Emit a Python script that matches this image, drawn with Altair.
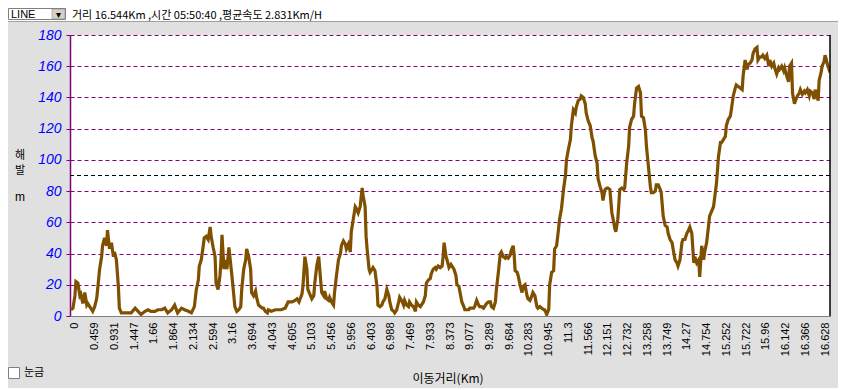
import altair as alt
import pandas as pd

# x-axis tick labels (distance in km), one every 20 sample positions
DIST_LABELS = ["0", "0.459", "0.931", "1.447", "1.66", "1.864", "2.134", "2.594", "3.16",
               "3.694", "4.043", "4.605", "5.103", "5.456", "5.956", "6.403", "6.988", "7.469",
               "7.933", "8.373", "9.077", "9.289", "9.684", "10.283", "10.945", "11.3", "11.566",
               "12.151", "12.732", "13.258", "13.749", "14.27", "14.754", "15.252", "15.722",
               "15.96", "16.142", "16.366", "16.628"]
Y_TICKS = [0, 20, 40, 60, 80, 100, 120, 140, 160, 180]
REF_LINE = [90]

# elevation profile: (sample position, elevation m)
SEG_A = [(0, 4), (2, 5), (4, 13), (5, 22), (7, 21), (9, 13), (10, 14), (12, 8), (14, 15), (16, 7),
         (17, 8), (19, 6), (21, 4), (22, 3), (24, 6), (26, 11), (27, 17), (29, 30), (31, 38), (32, 45),
         (34, 50), (36, 45), (37, 55), (39, 43), (41, 47), (43, 38), (44, 41), (46, 36), (48, 19),
         (49, 5), (51, 2), (54, 2), (58, 2), (61, 2), (65, 5), (68, 3), (71, 1), (75, 3), (78, 4),
         (81, 3), (85, 3), (88, 4), (92, 4), (95, 5), (98, 2), (102, 4), (105, 7), (108, 2),
         (112, 5), (115, 4), (119, 3), (122, 2), (125, 6)]
SEG_B = [(127, 17), (129, 23), (130, 32), (132, 36), (134, 45), (135, 50), (137, 51), (139, 49),
         (141, 57), (142, 51), (144, 44), (146, 38), (147, 21), (149, 17), (151, 26), (152, 36),
         (153, 52), (155, 30), (156, 36), (158, 30), (160, 44), (161, 38), (163, 26), (165, 13),
         (166, 6), (168, 3), (170, 4), (172, 6), (173, 17), (175, 30), (177, 36), (178, 43),
         (180, 38), (182, 30), (183, 15), (185, 13), (187, 16), (188, 12), (190, 7), (192, 6),
         (194, 5), (195, 5), (197, 3), (199, 2)]
SEG_C = [(200, 4), (203, 3), (207, 4), (210, 4), (213, 4), (217, 5), (220, 9), (224, 9), (227, 10),
         (229, 11), (231, 9), (234, 14), (235, 19), (237, 38), (239, 30), (240, 17), (242, 14),
         (244, 11), (246, 13), (247, 21), (249, 32), (251, 38), (252, 30), (254, 15), (256, 13),
         (257, 16), (259, 11), (261, 10), (262, 12), (264, 9), (266, 7), (267, 15), (269, 26),
         (271, 36), (273, 40), (274, 45), (276, 48), (278, 46), (279, 43), (281, 46), (283, 41),
         (284, 54), (286, 62), (288, 70), (289, 69), (291, 66), (293, 70), (295, 82), (296, 77),
         (298, 70), (299, 51), (300, 43), (302, 30), (303, 28), (305, 30), (306, 31), (308, 29),
         (310, 19), (311, 7)]
SEG_D = [(313, 6), (315, 7), (316, 9), (318, 11), (320, 17), (322, 13), (323, 9), (325, 4), (327, 3),
         (328, 2), (330, 4), (332, 9), (333, 12), (335, 10), (337, 7), (338, 10), (340, 7), (342, 6),
         (343, 9), (345, 7), (347, 6), (349, 3), (350, 9), (352, 7), (354, 6), (355, 7), (357, 9),
         (359, 13), (360, 21), (362, 23), (364, 24), (365, 27), (367, 30), (369, 31), (370, 30),
         (372, 32), (374, 31), (376, 32), (377, 38), (378, 47), (380, 38), (381, 36), (383, 31),
         (385, 33), (386, 32), (388, 30), (390, 26), (391, 20), (393, 19)]
SEG_E = [(396, 9), (398, 6), (399, 4), (401, 4), (403, 4), (404, 5), (406, 5), (408, 5), (409, 6),
         (411, 10), (413, 7), (414, 6), (416, 6), (418, 5), (419, 6), (421, 8), (423, 9), (425, 9),
         (426, 6), (428, 5), (430, 9), (431, 17), (433, 28), (435, 40), (436, 41), (438, 38),
         (440, 37), (441, 38), (443, 37), (445, 39), (446, 42), (448, 45), (449, 39), (450, 29),
         (452, 28), (453, 26), (455, 20), (457, 15), (458, 19), (460, 20), (462, 13), (463, 11),
         (465, 10), (467, 13), (468, 15), (470, 13), (472, 6), (473, 5), (475, 6), (477, 5),
         (479, 4), (480, 4), (482, 1), (484, 4)]
SEG_F = [(485, 20), (487, 28), (489, 29), (490, 43), (492, 45), (494, 56), (495, 62), (497, 69),
         (499, 81), (501, 90), (502, 100), (504, 107), (506, 113), (507, 122), (509, 132),
         (511, 130), (512, 134), (514, 138), (516, 139), (517, 141), (519, 140), (521, 136),
         (522, 130), (524, 125), (526, 122), (528, 114), (529, 112), (531, 103), (533, 98),
         (534, 88), (536, 83), (538, 79), (539, 74), (541, 81), (543, 82), (544, 82), (546, 81),
         (548, 66), (549, 63), (551, 56), (552, 54), (554, 62), (555, 71), (556, 81), (558, 82),
         (560, 81), (561, 82), (563, 98), (565, 109), (566, 121)]
SEG_G = [(568, 126), (570, 128), (571, 136), (573, 146), (575, 147), (577, 143), (578, 128),
         (580, 127), (582, 119), (583, 109), (585, 96), (587, 83), (588, 79), (590, 79), (592, 80),
         (593, 84), (595, 84), (597, 81), (598, 79), (600, 64), (602, 58), (604, 57), (605, 53),
         (607, 49), (609, 47), (610, 43), (612, 36), (614, 34), (615, 32), (617, 36), (619, 47),
         (620, 49), (622, 49), (624, 53), (625, 54), (627, 57), (629, 53), (631, 34), (632, 38),
         (634, 34), (636, 36), (637, 25), (639, 45), (641, 36), (642, 41), (644, 47), (646, 58),
         (647, 64), (649, 67), (651, 70), (652, 75), (654, 85)]
SEG_H = [(656, 102), (658, 111), (659, 111), (661, 113), (663, 115), (664, 122), (666, 126),
         (668, 128), (669, 132), (671, 141), (673, 146), (674, 148), (676, 147), (678, 146),
         (680, 145), (681, 154), (683, 164), (685, 158), (686, 161), (688, 162), (690, 164),
         (691, 168), (693, 171), (695, 172), (696, 164), (698, 166), (700, 166), (701, 167),
         (703, 165), (705, 167), (707, 160), (708, 164), (710, 160), (712, 162), (713, 159),
         (715, 155), (717, 159), (718, 158), (720, 160), (722, 157), (723, 159), (725, 154),
         (727, 150), (728, 160), (730, 162), (731, 143), (733, 136), (734, 138), (736, 141),
         (738, 143), (739, 145), (741, 142), (743, 144), (744, 143), (746, 145), (748, 141),
         (749, 144), (751, 143), (753, 139), (754, 145), (756, 141), (757, 138), (758, 151),
         (760, 156), (761, 160), (763, 163), (764, 167), (765, 165), (766, 162), (768, 158),
         (769, 156)]

rows = SEG_A + SEG_B + SEG_C + SEG_D + SEG_E + SEG_F + SEG_G + SEG_H
df = pd.DataFrame(rows, columns=["pos", "elev"])

label_js = "[" + ",".join("'" + s + "'" for s in DIST_LABELS) + "]"
label_expr = label_js + "[round((datum.value - 4) / 20)]"
tick_pos = [4 + 20 * k for k in range(len(DIST_LABELS))]

W, H = 760, 281
PURPLE = "#800080"
BROWN = "#7F5000"

xscale = alt.Scale(domain=[-1, 769], nice=False, zero=False)
yscale = alt.Scale(domain=[0, 180], nice=False)

yaxis = alt.Axis(values=Y_TICKS, grid=True, gridColor=PURPLE, gridDash=[4, 3],
                 gridWidth=1, domainColor=PURPLE, domainWidth=1.5, tickColor=PURPLE,
                 tickSize=4, labelColor="#0000FF", labelFontStyle="italic",
                 labelFont="Liberation Sans", labelFontSize=14, labelPadding=5,
                 labelOverlap=False, labelBound=False, labelFlush=False, title=None)

line = alt.Chart(df).mark_line(color=BROWN, strokeWidth=3.2, clip=True).encode(
    x=alt.X("pos:Q", scale=xscale,
            axis=alt.Axis(values=tick_pos, labelExpr=label_expr, labelAngle=-90,
                          labelFontSize=11, labelFont="Liberation Sans", labelColor="black",
                          ticks=False, grid=False, domainColor="#808080", domainWidth=1,
                          labelPadding=6, labelOverlap=False, labelFlush=False,
                          labelBound=False, title=None, zindex=1)),
    y=alt.Y("elev:Q", scale=yscale, axis=yaxis),
)

ref = alt.Chart(pd.DataFrame({"elev": REF_LINE})).mark_rule(
    color="black", strokeDash=[4, 3], strokeWidth=1).encode(
    y=alt.Y("elev:Q", scale=yscale, axis=yaxis))

right_border = alt.Chart(pd.DataFrame({"a": [0]})).mark_rule(color="black", strokeWidth=1.5).encode(
    x=alt.value(W), y=alt.value(0), y2=alt.value(H))

one = pd.DataFrame({"a": [0]})

top_band = alt.Chart(one).mark_rect(color="white").encode(
    x=alt.value(-62), x2=alt.value(768), y=alt.value(-27), y2=alt.value(-14))
top_sep = alt.Chart(one).mark_rule(color="#a0a0a0", strokeWidth=1).encode(
    x=alt.value(-62), x2=alt.value(768), y=alt.value(-13.5))
combo = alt.Chart(one).mark_rect(fill="white", stroke="#808080", strokeWidth=1).encode(
    x=alt.value(-61.5), x2=alt.value(-4.5), y=alt.value(-26.5), y2=alt.value(-15.5))
combo_btn = alt.Chart(one).mark_rect(fill="#d4d0c8", stroke="#808080", strokeWidth=0.5).encode(
    x=alt.value(-18), x2=alt.value(-5), y=alt.value(-26), y2=alt.value(-16))
combo_arrow = alt.Chart(one).mark_text(text="▾", fontSize=10, color="black").encode(
    x=alt.value(-11.5), y=alt.value(-20.5))
combo_txt = alt.Chart(one).mark_text(text="LINE", fontSize=11, font="Liberation Sans",
                                     align="left", color="black").encode(
    x=alt.value(-59), y=alt.value(-20.5))
top_txt = alt.Chart(one).mark_text(text="거리 16.544Km ,시간 05:50:40 ,평균속도 2.831Km/H",
                                   fontSize=11, font="Noto Sans CJK KR", align="left",
                                   baseline="middle", color="black").encode(
    x=alt.value(2), y=alt.value(-19))

ytitle1 = alt.Chart(one).mark_text(text="해", fontSize=11, font="Noto Sans CJK KR",
                                   color="black").encode(x=alt.value(-50), y=alt.value(121))
ytitle2 = alt.Chart(one).mark_text(text="발", fontSize=11, font="Noto Sans CJK KR",
                                   color="black").encode(x=alt.value(-50), y=alt.value(136))
ytitle3 = alt.Chart(one).mark_text(text="m", fontSize=12, font="Liberation Sans",
                                   color="black").encode(x=alt.value(-50), y=alt.value(162))

xtitle = alt.Chart(one).mark_text(text="이동거리(Km)", fontSize=12, font="Noto Sans CJK KR",
                                  color="black").encode(x=alt.value(378), y=alt.value(344))

chk_box = alt.Chart(one).mark_rect(fill="white", stroke="#808080", strokeWidth=1).encode(
    x=alt.value(-61.5), x2=alt.value(-50.5), y=alt.value(332.5), y2=alt.value(343.5))
chk_txt = alt.Chart(one).mark_text(text="눈금", fontSize=11, font="Noto Sans CJK KR",
                                   align="left", color="black").encode(
    x=alt.value(-46), y=alt.value(338))

chart = alt.layer(
    ref, line, right_border, top_band, top_sep, combo, combo_btn, combo_arrow, combo_txt,
    top_txt, ytitle1, ytitle2, ytitle3, xtitle, chk_box, chk_txt
).properties(
    width=W, height=H,
    autosize=alt.AutoSizeParams(type="none"),
    padding={"left": 62, "top": 27, "right": 8, "bottom": 72},
    background="#e0e0e0",
).configure_view(fill="white", stroke=None)

chart.save("out.html", embed_options={"renderer": "svg", "actions": False})
